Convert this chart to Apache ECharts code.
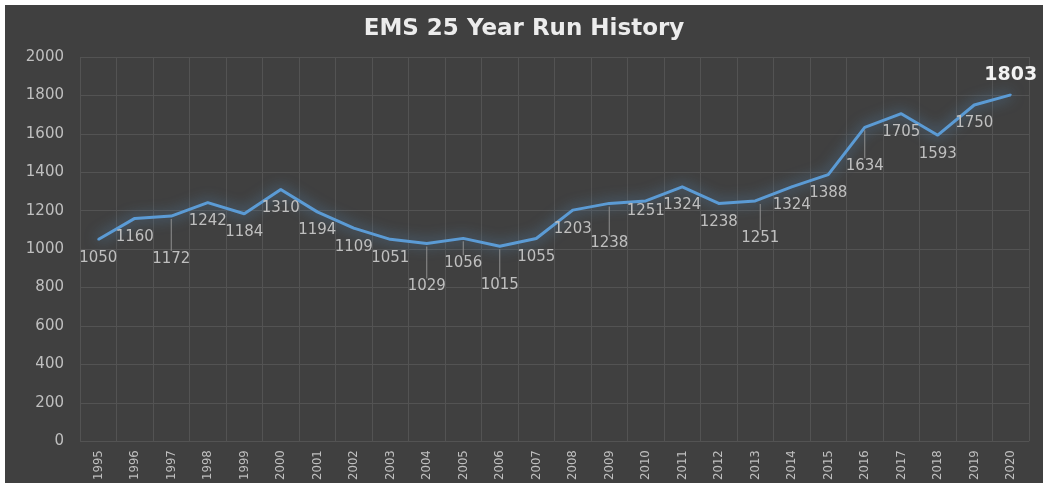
<!DOCTYPE html>
<html>
<head>
<meta charset="utf-8">
<title>EMS 25 Year Run History</title>
<script src="https://cdn.jsdelivr.net/npm/echarts@6/dist/echarts.min.js"></script>
<style>
  html, body { margin: 0; padding: 0; background: #ffffff; }
  #chart { position: absolute; left: 5px; top: 5px; width: 1038px; height: 478px; }
</style>
</head>
<body>
<div id="chart"></div>
<script>
const years = ['1995', '1996', '1997', '1998', '1999', '2000', '2001', '2002', '2003',
  '2004', '2005', '2006', '2007', '2008', '2009', '2010', '2011', '2012', '2013',
  '2014', '2015', '2016', '2017', '2018', '2019', '2020'];
const runs = [1050, 1160, 1172, 1242, 1184, 1310, 1194, 1109, 1051, 1029, 1056, 1015,
  1055, 1203, 1238, 1251, 1324, 1238, 1251, 1324, 1388, 1634, 1705, 1593, 1750, 1803];

// labels pushed further down with a leader line (extra px below the normal spot)
const leaderDrop = { '1997': 24, '2004': 24, '2005': 6, '2006': 20, '2009': 21, '2013': 18, '2016': 20 };
const leaderShift = { '2013': 5 };
const labelRaise = { '2010': 8 };

const chart = echarts.init(document.getElementById('chart'));

const lastIdx = runs.length - 1;
const seriesData = runs.map(function (v, i) {
  const y = years[i];
  if (i === lastIdx) {
    return {
      value: v,
      label: { position: 'top', distance: 9, color: '#f2f2f2', fontSize: 19, fontWeight: 'bold' }
    };
  }
  if (leaderDrop[y] !== undefined) {
    // leader line drawn as a thin rich-text box above the number
    return {
      value: v,
      label: {
        distance: 2,
        offset: [leaderShift[y] || 0, 0],
        formatter: '{stem| }\n{val|{c}}',
        rich: {
          stem: { width: 1, height: 8 + leaderDrop[y], backgroundColor: '#8f8f8f', fontSize: 1, lineHeight: 8 + leaderDrop[y] }
        }
      }
    };
  }
  if (labelRaise[y] !== undefined) {
    return { value: v, label: { offset: [0, -labelRaise[y]] } };
  }
  return v;
});

const option = {
  backgroundColor: '#404040',
  textStyle: { fontFamily: 'DejaVu Sans' },
  title: {
    text: 'EMS 25 Year Run History',
    left: 'center',
    top: 8,
    textStyle: { color: '#ececec', fontSize: 23, fontWeight: 'bold', fontFamily: 'DejaVu Sans' }
  },
  grid: { left: 75, right: 14, top: 52, bottom: 39 },
  xAxis: {
    type: 'category',
    data: years,
    boundaryGap: true,
    axisLine: { show: false },
    axisTick: { show: false },
    splitLine: { show: true, interval: 0, lineStyle: { color: '#535353', width: 1 } },
    axisLabel: {
      interval: 0,
      rotate: 90,
      margin: 9,
      color: '#bfbfbf',
      fontSize: 13,
      fontFamily: 'DejaVu Sans Condensed'
    }
  },
  yAxis: {
    type: 'value',
    min: 0,
    max: 2000,
    interval: 200,
    axisLine: { show: false },
    axisTick: { show: false },
    splitLine: { lineStyle: { color: '#535353', width: 1 } },
    axisLabel: {
      color: '#bfbfbf',
      fontSize: 15,
      margin: 16,
      fontFamily: 'DejaVu Sans',
      formatter: function (v) { return String(v); }
    }
  },
  series: [{
    type: 'line',
    data: seriesData,
    symbol: 'circle',
    symbolSize: 2,
    itemStyle: { color: '#5b9bd5' },
    lineStyle: {
      color: '#5b9bd5',
      width: 3,
      shadowColor: 'rgba(91,155,213,0.8)',
      shadowBlur: 14
    },
    label: {
      show: true,
      position: 'bottom',
      distance: 10,
      color: '#bfbfbf',
      fontSize: 15,
      fontFamily: 'DejaVu Sans',
      rich: {
        val: { color: '#bfbfbf', fontSize: 15, fontFamily: 'DejaVu Sans', lineHeight: 16 }
      }
    },
    animation: false
  }]
};

chart.setOption(option);
</script>
</body>
</html>
